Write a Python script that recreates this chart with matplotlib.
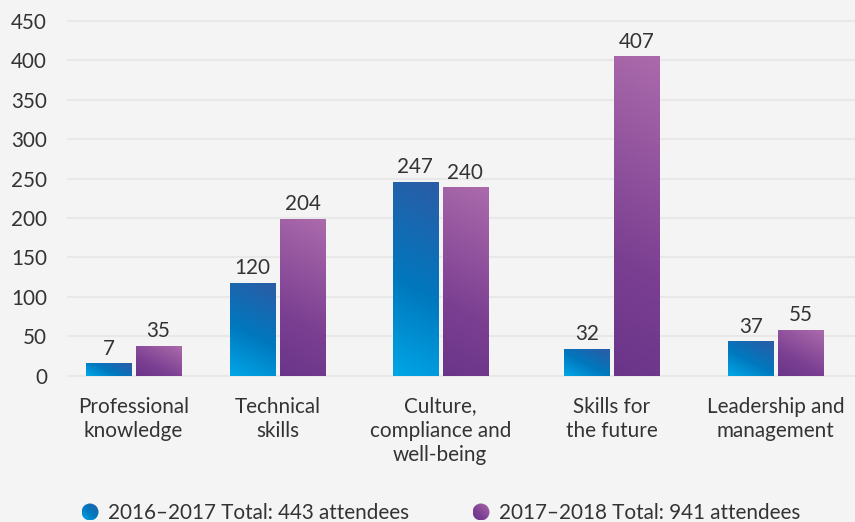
import matplotlib.pyplot as plt
import numpy as np
from matplotlib.colors import LinearSegmentedColormap
from matplotlib.patches import Ellipse

plt.rcParams['font.family'] = ['Lato', 'DejaVu Sans']

categories = ['Professional\nknowledge', 'Technical\nskills',
              'Culture,\ncompliance and\nwell-being', 'Skills for\nthe future',
              'Leadership and\nmanagement']
# printed numbers
labels_1617 = [7, 120, 247, 32, 37]
labels_1718 = [35, 204, 240, 407, 55]
# bar heights as drawn (they don't quite match the printed numbers)
bars_1617 = [16, 118, 246, 34, 44]
bars_1718 = [38, 199, 239, 405, 58]
legend_text = ['2016–2017 Total: 443 attendees', '2017–2018 Total: 941 attendees']

# group centres, spacing is uneven in the original
group_pos = [0, 1, 2.13, 3.32, 4.46]
bw = 0.3125
off = 0.0174

W, H = 855, 522
bg = '#f4f4f4'
tc = '#333333'
fs = 14.9

blue = LinearSegmentedColormap.from_list('b', [(0, '#00a6e6'), (0.45, '#0078be'), (1, '#2b5ca6')])
purple = LinearSegmentedColormap.from_list('p', [(0, '#6a3589'), (0.35, '#7b3f92'), (1, '#ab6aab')])

fig = plt.figure(figsize=(W/100, H/100), dpi=100)
fig.patch.set_facecolor(bg)
ax = fig.add_axes([67/W, (H-377.1)/H, 1-67/W, (377.1-19.4)/H])
ax.set_facecolor(bg)
ax.set_xlim(-0.462, 5.01)
ax.set_ylim(-2, 452)


def grad(wpx, hpx, angle=62):
    nx, ny = max(int(wpx), 2), max(int(hpx), 2)
    xx, yy = np.meshgrid(np.linspace(0, wpx, nx), np.linspace(0, hpx, ny))
    a = np.radians(angle)
    p = xx*np.cos(a) + yy*np.sin(a)
    return (p - p.min())/(p.max() - p.min())


def grad_bar(x0, h, cmap):
    p0 = ax.transData.transform((x0, 0))
    p1 = ax.transData.transform((x0 + bw, h))
    t = grad(p1[0] - p0[0], p1[1] - p0[1])
    rect = ax.bar(x0, h, bw, align='edge', color='none', lw=0, zorder=2)[0]
    im = ax.imshow(t, cmap=cmap, extent=(x0, x0 + bw, 0, h), origin='lower',
                   aspect='auto', interpolation='bilinear', zorder=2)
    im.set_clip_path(rect)


for i, g in enumerate(group_pos):
    xb = g - off - bw
    xp = g + off
    grad_bar(xb, bars_1617[i], blue)
    grad_bar(xp, bars_1718[i], purple)
    ax.annotate(str(labels_1617[i]), (xb + bw/2, bars_1617[i]), xytext=(0, 6),
                textcoords='offset points', ha='center', va='baseline',
                fontsize=fs, color=tc)
    ax.annotate(str(labels_1718[i]), (xp + bw/2, bars_1718[i]), xytext=(0, 6),
                textcoords='offset points', ha='center', va='baseline',
                fontsize=fs, color=tc)

ax.set_xlim(-0.462, 5.01)
ax.set_ylim(-2, 452)
ax.set_yticks(range(0, 451, 50))
ax.set_xticks(group_pos, categories, linespacing=1.26)
ax.tick_params(axis='y', length=0, pad=14.4, labelsize=fs, labelcolor=tc)
ax.tick_params(axis='x', length=0, pad=14.0, labelsize=fs, labelcolor=tc)
ax.yaxis.grid(True, color='#e8e8e8', lw=1.5)
ax.set_axisbelow(True)
for s in ax.spines.values():
    s.set_visible(False)

# legend drawn by hand in pixel coordinates
lax = fig.add_axes([0, 0, 1, 1], zorder=5)
lax.set_xlim(0, W)
lax.set_ylim(H, 0)
lax.axis('off')
for cx, tx, cmap, txt in zip([90, 481], [108, 499], [blue, purple], legend_text):
    r = 8.5
    e = Ellipse((cx, 512), 2*r, 2*r, fc='none', lw=0)
    lax.add_patch(e)
    t = grad(40, 40, 45)[::-1]
    im = lax.imshow(t, cmap=cmap, extent=(cx - r, cx + r, 512 + r, 512 - r),
                    origin='upper', aspect='auto', interpolation='bilinear')
    im.set_clip_path(e)
    lax.text(tx, 519.3, txt, va='baseline', ha='left', fontsize=fs, color=tc)
lax.set_xlim(0, W)
lax.set_ylim(H, 0)

fig.savefig('out.png', dpi=100, facecolor=bg)
